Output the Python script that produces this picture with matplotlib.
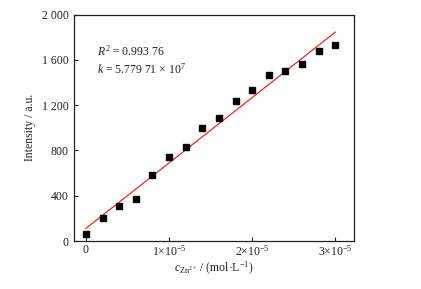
import matplotlib
matplotlib.use("Agg")
import matplotlib.pyplot as plt
import numpy as np

plt.rcParams['font.family'] = ['Liberation Serif', 'DejaVu Serif']
plt.rcParams['mathtext.fontset'] = 'custom'
plt.rcParams['mathtext.rm'] = 'Liberation Serif'
plt.rcParams['mathtext.it'] = 'Liberation Serif:italic'
plt.rcParams['mathtext.bf'] = 'Liberation Serif:bold'

conc = [0, 2e-6, 4e-6, 6e-6, 8e-6, 1e-5, 1.2e-5, 1.4e-5, 1.6e-5, 1.8e-5,
        2e-5, 2.2e-5, 2.4e-5, 2.6e-5, 2.8e-5, 3e-5]
intensity = [59, 200, 312, 374, 583, 739, 828, 996, 1090, 1237,
             1334, 1464, 1499, 1564, 1682, 1732]
slope_k = 5.77971e7
intercept = 112
xticks = [0, 1e-5, 2e-5, 3e-5]
xticklabels = ['0', '1×10$^{-5}$', '2×10$^{-5}$', '3×10$^{-5}$']
yticks = [0, 400, 800, 1200, 1600, 2000]
yticklabels = ['0', '400', '800', '1 200', '1 600', '2 000']

fig = plt.figure(figsize=(4.21, 2.89), dpi=100)
ax = fig.add_axes([73.5/421, 1-241/289, (354-73.5)/421, (241-14.7)/289])

fit_x = np.array([conc[0], conc[-1]])
ax.plot(fit_x, slope_k*fit_x + intercept, color='#ee2222', lw=0.9, zorder=2)
ax.plot(conc, intensity, 's', color='black', ms=4, zorder=3)

ax.set_xlim(-1.5e-6, 3.225e-5)
ax.set_ylim(0, 2000)
ax.set_xticks(xticks)
ax.set_xticklabels(xticklabels)
ax.set_yticks(yticks)
ax.set_yticklabels(yticklabels)
ax.tick_params(direction='in', length=3, width=0.8, labelsize=8.5, colors='#222222', pad=3.5)
ax.tick_params(axis='x', pad=2.5)
for s in ax.spines.values():
    s.set_linewidth(0.9)
    s.set_color('#222222')

ax.set_ylabel('Intensity / a.u.', fontsize=8.5, color='#222222', labelpad=4)
ax.set_xlabel(r'$c_{\mathrm{Zn^{2+}}}$ / (mol·L$^{-1}$)', fontsize=8.5, color='#222222', labelpad=1)

ax.text(97/421, 1-51/289, r'$R^2$ = 0.993 76', transform=fig.transFigure,
        fontsize=8.5, va='center', ha='left', color='#222222')
ax.text(97/421, 1-69/289, r'$k$ = 5.779 71 × 10$^7$', transform=fig.transFigure,
        fontsize=8.5, va='center', ha='left', color='#222222')

fig.savefig('out.png', dpi=100)
